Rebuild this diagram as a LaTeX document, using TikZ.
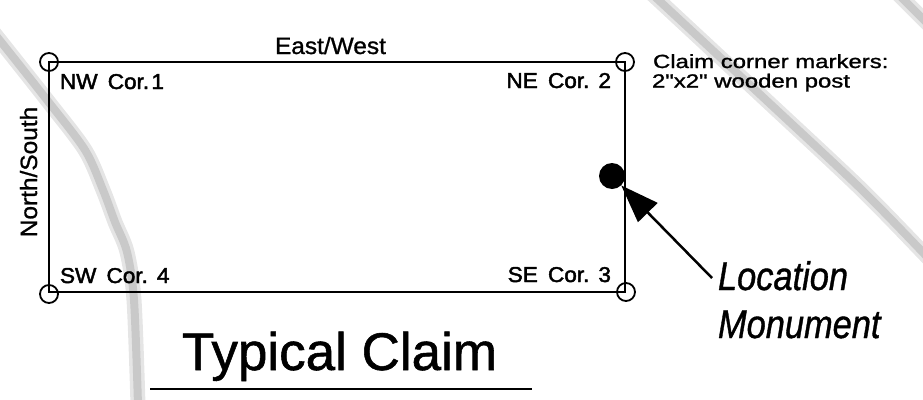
\documentclass[tikz,border=0pt]{standalone}
\usepackage{fontspec}
\setmainfont{Liberation Sans}[FakeBold=1]
\newfontfamily\plainquote{Liberation Sans}[FakeBold=1.2]
\newfontfamily\cornerfont{Liberation Sans}[FakeBold=2]
\usetikzlibrary{arrows.meta}
\begin{document}
\begin{tikzpicture}[x=1pt,y=-1pt,
  txt/.style={inner sep=0pt, outer sep=0pt},
  edge/.style={line width=2pt, black},
  marker/.style={circle, draw=black, line width=1.8pt, minimum size=18pt, inner sep=0pt, fill=none},
  stripeo/.style={line width=15pt, color=black!10, line cap=butt},
  stripei/.style={line width=8pt, color=black!21, line cap=butt},
  cornerlbl/.style={txt, font=\cornerfont\fontsize{21.5}{25}\selectfont},
  axislbl/.style={txt, font=\fontsize{23.5}{27}\selectfont},
  notelbl/.style={txt, font=\plainquote\fontsize{19}{22}\selectfont},
  monlbl/.style={txt, font=\fontsize{40}{48}\selectfont\itshape},
  titlelbl/.style={txt, font=\fontsize{53}{60}\selectfont}]
\useasboundingbox (0,0) rectangle (923,399);
% background grey stripes
\foreach \s in {stripeo,stripei}{
  \draw[\s] plot[smooth] coordinates {(-6,33) (47,100) (85,150) (103,190) (115,222) (127,252) (134,300) (138,405)};
  \draw[\s] plot[smooth] coordinates {(652,-6) (766,100) (862,190) (932,262)};
  \draw[\s] (898,-6) -- (932,28);
}
% corners
\coordinate (nw) at (49,62);
\coordinate (ne) at (625,62);
\coordinate (se) at (625,292);
\coordinate (sw) at (49,292);
\draw[edge] (nw) -- (ne) -- (se) -- (sw) -- cycle;
\node[marker] (cnw) at (49,62) {};
\node[marker] (cne) at (625,62) {};
\node[marker] (cse) at (626,292) {};
\node[marker] (csw) at (49,294) {};
% labels
\node[axislbl, anchor=base west] (ew) at (275,54) {\scalebox{1.04}[1]{East/West}};
\node[axislbl, anchor=base, rotate=90] (ns) at (37,172) {\scalebox{1.04}[1]{North/South}};
\node[cornerlbl, anchor=base west] (l1) at (60,89) {\scalebox{1.05}[1]{NW\hspace{0.45em}Cor.\hspace{0.1em}1}};
\node[cornerlbl, anchor=base east] (l2) at (611,88) {\scalebox{1.05}[1]{NE\hspace{0.45em}Cor.\hspace{0.4em}2}};
\node[cornerlbl, anchor=base west] (l4) at (60,283) {\scalebox{1.05}[1]{SW\hspace{0.45em}Cor.\hspace{0.4em}4}};
\node[cornerlbl, anchor=base east] (l3) at (611,282) {\scalebox{1.05}[1]{SE\hspace{0.45em}Cor.\hspace{0.4em}3}};
\node[notelbl, anchor=base west] (n1) at (653,68) {\scalebox{1.26}[1]{Claim corner markers:}};
\node[notelbl, anchor=base west] (n2) at (652,87.5) {\scalebox{1.26}[1]{2"x2" wooden post}};
% location monument
\node[circle, fill=black, minimum size=26pt, inner sep=0pt] (dot) at (612,176) {};
\node[monlbl, anchor=base west] (loc) at (718,290) {\scalebox{0.86}[1]{Location}};
\node[monlbl, anchor=base west] (mon) at (718,338) {\scalebox{0.86}[1]{Monument}};
\coordinate (tail) at (712,278);
\draw[line width=2.5pt, -{Triangle[length=38pt, width=27pt]}] (tail) -- (dot);
% title
\node[titlelbl, anchor=base west] (title) at (182,370) {Typical Claim};
\coordinate (ul1) at (150,389);
\coordinate (ul2) at (532,389);
\draw[line width=2pt] (ul1) -- (ul2);
\end{tikzpicture}
\end{document}
